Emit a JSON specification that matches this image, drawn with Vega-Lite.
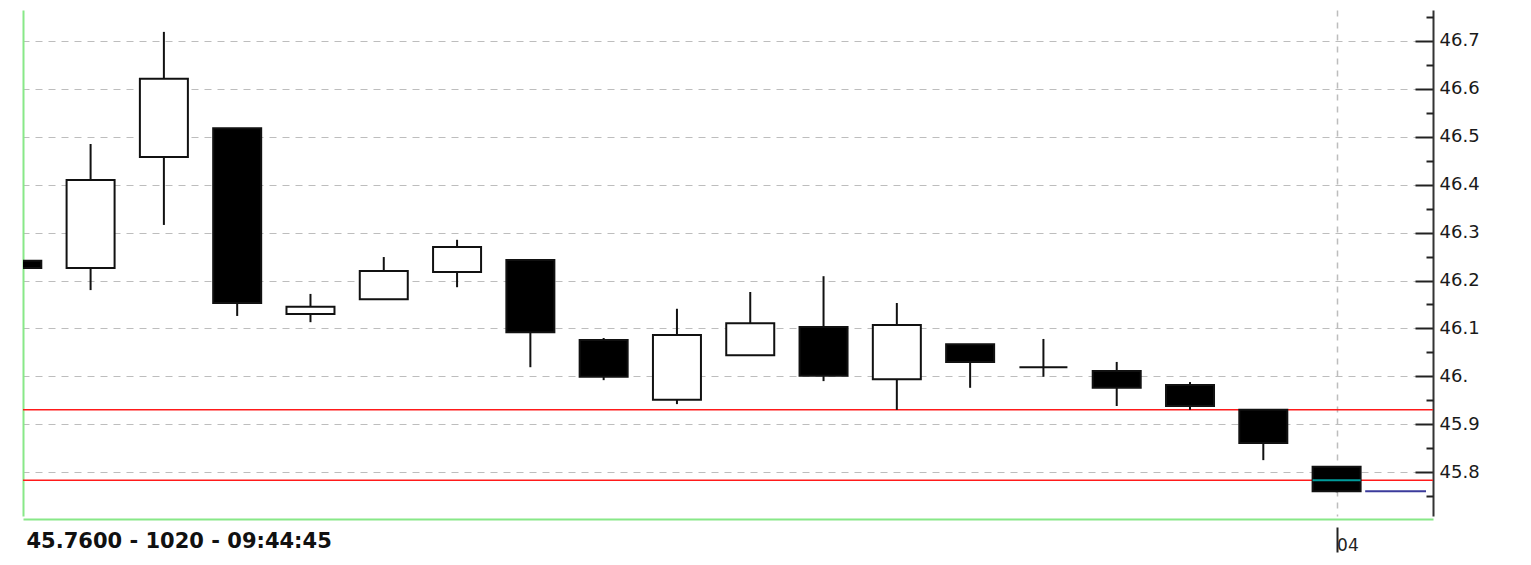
{
  "$schema": "https://vega.github.io/schema/vega-lite/v6.json",
  "width": 1410,
  "height": 506,
  "autosize": {"type": "none"},
  "padding": {"left": 23, "top": 10, "right": 98, "bottom": 49},
  "background": "white",
  "config": {"view": {"stroke": null}, "font": "DejaVu Sans"},
  "data": {"values": [
    {"i": 0, "open": 46.241, "high": 46.241, "low": 46.226, "close": 46.226},
    {"i": 1, "open": 46.226, "high": 46.485, "low": 46.180, "close": 46.410},
    {"i": 2, "open": 46.458, "high": 46.719, "low": 46.316, "close": 46.621},
    {"i": 3, "open": 46.518, "high": 46.518, "low": 46.126, "close": 46.153},
    {"i": 4, "open": 46.130, "high": 46.172, "low": 46.113, "close": 46.145},
    {"i": 5, "open": 46.161, "high": 46.249, "low": 46.161, "close": 46.220},
    {"i": 6, "open": 46.218, "high": 46.285, "low": 46.186, "close": 46.270},
    {"i": 7, "open": 46.243, "high": 46.243, "low": 46.019, "close": 46.092},
    {"i": 8, "open": 46.076, "high": 46.080, "low": 45.992, "close": 45.999},
    {"i": 9, "open": 45.951, "high": 46.141, "low": 45.942, "close": 46.086},
    {"i": 10, "open": 46.044, "high": 46.176, "low": 46.044, "close": 46.111},
    {"i": 11, "open": 46.103, "high": 46.209, "low": 45.990, "close": 46.001},
    {"i": 12, "open": 45.994, "high": 46.153, "low": 45.930, "close": 46.107},
    {"i": 13, "open": 46.067, "high": 46.067, "low": 45.976, "close": 46.030},
    {"i": 14, "open": 46.019, "high": 46.078, "low": 45.999, "close": 46.019},
    {"i": 15, "open": 46.011, "high": 46.030, "low": 45.938, "close": 45.976},
    {"i": 16, "open": 45.982, "high": 45.988, "low": 45.930, "close": 45.938},
    {"i": 17, "open": 45.930, "high": 45.930, "low": 45.825, "close": 45.861},
    {"i": 18, "open": 45.811, "high": 45.811, "low": 45.758, "close": 45.760}
  ]},
  "layer": [
    {
      "data": {"values": [{"level": 45.930}, {"level": 45.783}]},
      "mark": {"type": "rule", "color": "#ff1a1a", "strokeWidth": 1.5},
      "encoding": {
        "y": {
          "field": "level", "type": "quantitative",
          "scale": {"domain": [45.7084, 46.7647], "nice": false, "zero": false},
          "axis": {
            "orient": "right",
            "values": [45.8, 45.9, 46.0, 46.1, 46.2, 46.3, 46.4, 46.5, 46.6, 46.7],
            "labelExpr": "replace(format(datum.value, '.1f'), '.0', '.')",
            "title": null,
            "grid": true, "gridDash": [7, 6], "gridColor": "#bdbdbd", "gridWidth": 1.2,
            "domainColor": "#333333", "domainWidth": 2,
            "tickColor": "#222222", "tickWidth": 2, "tickSize": -18,
            "labelPadding": 24, "labelFontSize": 18, "labelColor": "#1a1a1a",
            "labelFont": "DejaVu Sans", "labelAlign": "left", "labelBaseline": "middle",
            "zindex": 0
          }
        }
      }
    },
    {
      "mark": {"type": "rule", "color": "#111111", "strokeWidth": 2, "clip": true},
      "encoding": {
        "x": {
          "field": "i", "type": "quantitative",
          "scale": {"domain": [0.146, 19.247], "nice": false, "zero": false},
          "axis": {
            "orient": "bottom", "offset": 3,
            "domainColor": "#88e888", "domainWidth": 2,
            "ticks": false, "labels": false, "grid": false,
            "title": "45.7600 - 1020 - 09:44:45",
            "titleFont": "DejaVu Sans", "titleFontSize": 21, "titleFontWeight": "bold",
            "titleColor": "#111111", "titleAlign": "left", "titleBaseline": "middle",
            "titleAnchor": "start", "titleX": 3, "titleY": 22
          }
        },
        "y": {
          "field": "low", "type": "quantitative",
          "scale": {"domain": [45.7084, 46.7647], "nice": false, "zero": false},
          "axis": {
            "orient": "left", "domainColor": "#88e888", "domainWidth": 2,
            "ticks": false, "labels": false, "grid": false, "title": null
          }
        },
        "y2": {"field": "high"}
      }
    },
    {
      "mark": {"type": "bar", "size": 48, "stroke": "#111111", "strokeWidth": 2, "clip": true},
      "encoding": {
        "x": {
          "field": "i", "type": "quantitative",
          "scale": {"domain": [0.146, 19.247], "nice": false, "zero": false},
          "axis": {
            "orient": "bottom", "offset": 11, "values": [18],
            "labelExpr": "'04'", "domain": false,
            "tickSize": 25, "tickWidth": 2, "tickColor": "#222222",
            "labelAlign": "left", "labelBaseline": "middle", "labelPadding": -7, "labelDx": 4,
            "labelFontSize": 17, "labelColor": "#222222", "labelFont": "DejaVu Sans",
            "grid": true, "gridDash": [6, 6], "gridColor": "#bdbdbd", "gridWidth": 1.5,
            "title": null, "zindex": 0
          }
        },
        "y": {
          "field": "open", "type": "quantitative",
          "scale": {"domain": [45.7084, 46.7647], "nice": false, "zero": false},
          "axis": {
            "orient": "right",
            "values": [45.75, 45.85, 45.95, 46.05, 46.15, 46.25, 46.35, 46.45, 46.55, 46.65, 46.75],
            "labels": false, "domain": false, "grid": false,
            "tickSize": -7, "tickWidth": 2, "tickColor": "#222222", "title": null
          }
        },
        "y2": {"field": "close"},
        "fill": {"condition": {"test": "datum.close >= datum.open", "value": "white"}, "value": "black"}
      }
    },
    {
      "data": {"values": [{"i": 18, "level": 45.783}]},
      "mark": {"type": "tick", "orient": "horizontal", "size": 48, "thickness": 2, "color": "#00dede"},
      "encoding": {
        "x": {"field": "i", "type": "quantitative", "scale": {"domain": [0.146, 19.247], "nice": false, "zero": false}, "axis": null},
        "y": {"field": "level", "type": "quantitative", "scale": {"domain": [45.7084, 46.7647], "nice": false, "zero": false}, "axis": null}
      }
    },
    {
      "data": {"values": [{"start": 18.39, "end": 19.22, "level": 45.760}]},
      "mark": {"type": "rule", "color": "#3b3b9b", "strokeWidth": 2},
      "encoding": {
        "x": {"field": "start", "type": "quantitative", "scale": {"domain": [0.146, 19.247], "nice": false, "zero": false}, "axis": null},
        "x2": {"field": "end"},
        "y": {"field": "level", "type": "quantitative", "scale": {"domain": [45.7084, 46.7647], "nice": false, "zero": false}, "axis": null}
      }
    }
  ],
  "resolve": {"axis": {"x": "independent", "y": "independent"}}
}
